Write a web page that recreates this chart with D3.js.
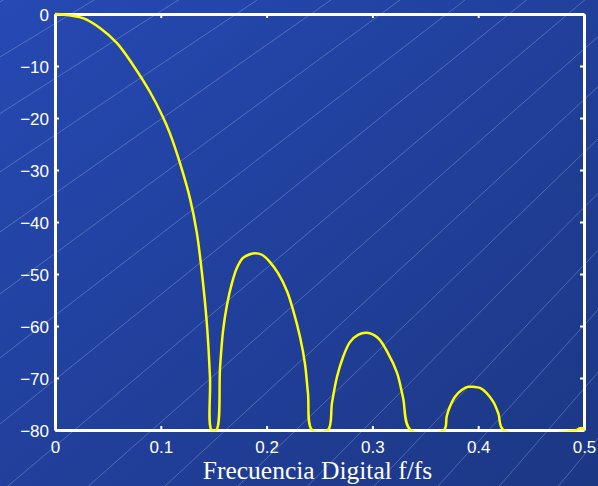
<!DOCTYPE html>
<html lang="es">
<head>
<meta charset="UTF-8">
<title>Respuesta en frecuencia</title>
<script src="https://d3js.org/d3.v7.min.js"></script>
<style>
  body { margin: 0; padding: 0; background: #1e3a8a; }
  svg { display: block; }
  .tick text { font-family: Arial, "Liberation Sans", sans-serif; font-size: 17px; fill: #fff; }
  .axis-title { font-family: "Times New Roman", "Liberation Serif", serif; font-size: 25.5px; fill: #fff; }
</style>
</head>
<body>
<div id="chart"></div>
<script>
  // frecuencia digital (f/fs) y magnitud en dB
  const freqs = [
    0, 0.005, 0.0265, 0.0425, 0.0586, 0.0737, 0.0898, 0.1020, 0.1087, 0.1180, 0.1276, 0.1340, 0.1390, 0.1437, 0.1465, 0.1480,
    0.1525, 0.1560, 0.1588, 0.1625, 0.1673, 0.1720, 0.1777, 0.1843, 0.1890, 0.1956, 0.2032, 0.2107, 0.2193, 0.2250, 0.2316, 0.2363, 0.2391, 0.2430,
    0.2580, 0.2618, 0.2665, 0.2722, 0.2788, 0.2864, 0.2949, 0.3053, 0.3147, 0.3233, 0.3289, 0.3360,
    0.3677, 0.3702, 0.3733, 0.3781, 0.3844, 0.3906, 0.3954, 0.4017, 0.4080, 0.4143, 0.4190, 0.4240,
    0.4930, 0.4955, 0.4990, 0.5000
  ];
  const magDb = [
    0, -0.05, -0.8, -2.7, -5.6, -9.8, -15.0, -19.8, -23.0, -28.6, -35.5, -42.0, -50.0, -60.0, -70.0, -80,
    -80, -68.0, -61.0, -56.0, -51.7, -48.8, -46.9, -46.2, -46.0, -46.3, -47.7, -49.8, -53.3, -56.9, -62.1, -67.3, -72.9, -80,
    -80, -74.8, -69.8, -66.0, -63.1, -61.7, -61.3, -62.3, -65.2, -69.0, -73.7, -80,
    -80, -77.4, -75.5, -73.6, -72.3, -71.7, -71.7, -71.9, -72.9, -74.6, -76.8, -80,
    -80, -79.7, -79.7, -80
  ];
  const xTicks = [0, 0.1, 0.2, 0.3, 0.4, 0.5];
  const xTickLabels = ["0", "0.1", "0.2", "0.3", "0.4", "0.5"];
  const yTicks = [0, -10, -20, -30, -40, -50, -60, -70, -80];
  const xTitle = "Frecuencia Digital f/fs";

  const W = 598, H = 486;
  const margin = { top: 14, right: 14, bottom: 56, left: 55 };
  const width = W - margin.left - margin.right;
  const height = H - margin.top - margin.bottom;

  const svg = d3.select("#chart").append("svg")
    .attr("width", W)
    .attr("height", H);

  // fondo azul con degradado
  const defs = svg.append("defs");
  const grad = defs.append("linearGradient")
    .attr("id", "bg")
    .attr("x1", "0").attr("y1", "0").attr("x2", "1").attr("y2", "1");
  grad.append("stop").attr("offset", "0%").attr("stop-color", "#2649b3");
  grad.append("stop").attr("offset", "100%").attr("stop-color", "#1c3784");
  svg.append("rect").attr("width", W).attr("height", H).attr("fill", "url(#bg)");

  // recorte para que la curva no pase por debajo del eje
  defs.append("clipPath").attr("id", "plot-clip")
    .append("rect")
    .attr("x", -2).attr("y", -2)
    .attr("width", width + 4).attr("height", height + 3.5);

  // líneas diagonales decorativas (abanico desde arriba a la derecha)
  const px = 1841, py = -1059;
  const a0 = Math.atan2(0 - py, 465 - px);
  const deco = svg.append("g").attr("stroke", "#9fb1e6").attr("stroke-opacity", 0.55).attr("stroke-width", 0.7);
  d3.range(-12, 30).forEach(k => {
    const a = a0 + k * 0.0222;
    deco.append("line")
      .attr("x1", px).attr("y1", py)
      .attr("x2", px + 4000 * Math.cos(a)).attr("y2", py + 4000 * Math.sin(a));
  });

  const g = svg.append("g").attr("transform", `translate(${margin.left},${margin.top})`);

  const x = d3.scaleLinear().domain([0, 0.5]).range([0, width]);
  const y = d3.scaleLinear().domain([-80, 0]).range([height, 0]);

  // ejes con marcas hacia dentro
  const xAxis = g.append("g")
    .attr("transform", `translate(0,${height})`)
    .call(d3.axisBottom(x).tickValues(xTicks).tickSizeInner(-4).tickSizeOuter(0).tickPadding(11)
      .tickFormat((d, i) => xTickLabels[i]));
  const yAxis = g.append("g")
    .call(d3.axisLeft(y).tickValues(yTicks).tickSizeInner(-4).tickSizeOuter(0).tickPadding(6));
  const xTop = g.append("g")
    .call(d3.axisTop(x).tickValues(xTicks).tickSizeInner(-4).tickSizeOuter(0).tickFormat(""));
  const yRight = g.append("g")
    .attr("transform", `translate(${width},0)`)
    .call(d3.axisRight(y).tickValues(yTicks).tickSizeInner(-4).tickSizeOuter(0).tickFormat(""));

  [xAxis, yAxis, xTop, yRight].forEach(ax => {
    ax.select(".domain").attr("stroke", "#fff").attr("stroke-width", 3);
    ax.selectAll(".tick line").attr("stroke", "#fff").attr("stroke-width", 2);
  });
  yAxis.selectAll(".tick text").attr("dy", "0.38em");

  // título del eje x
  g.append("text")
    .attr("class", "axis-title")
    .attr("x", width / 2 - 2)
    .attr("y", height + 49)
    .attr("text-anchor", "middle")
    .text(xTitle);

  // curva de respuesta
  const data = freqs.map((f, i) => ({ f: f, db: magDb[i] }));
  const line = d3.line()
    .x(d => x(d.f))
    .y(d => y(d.db))
    .curve(d3.curveCatmullRom.alpha(0.5));

  g.append("path")
    .datum(data)
    .attr("clip-path", "url(#plot-clip)")
    .attr("fill", "none")
    .attr("stroke", "#ffff00")
    .attr("stroke-width", 2.5)
    .attr("stroke-linejoin", "round")
    .attr("d", line);
</script>
</body>
</html>
